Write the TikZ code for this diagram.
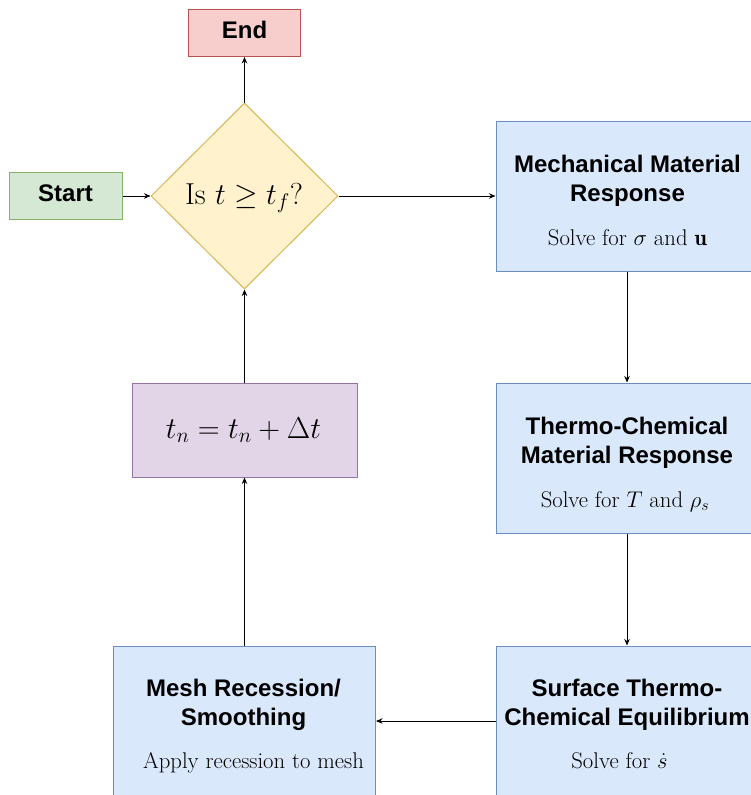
\RequirePackage{fix-cm}
\documentclass[tikz,border=0pt]{standalone}
\usepackage{fontspec}
\setsansfont{Liberation Sans}
\usetikzlibrary{shapes.geometric,arrows.meta}
\definecolor{bluefill}{HTML}{DAE8FC}\definecolor{bluedraw}{HTML}{6C8EBF}
\definecolor{purfill}{HTML}{E1D5E7}\definecolor{purdraw}{HTML}{9673A6}
\definecolor{yelfill}{HTML}{FFF2CC}\definecolor{yeldraw}{HTML}{D6B656}
\definecolor{grnfill}{HTML}{D5E8D4}\definecolor{grndraw}{HTML}{82B366}
\definecolor{redfill}{HTML}{F8CECC}\definecolor{reddraw}{HTML}{B85450}
\tikzset{
  boxbase/.style={rectangle, inner sep=0pt, line width=1pt},
  bluebox/.style={boxbase, fill=bluefill, draw=bluedraw, minimum width=262pt, minimum height=150pt},
  title/.style={font=\sffamily\bfseries\fontsize{24}{28}\selectfont, anchor=base, inner sep=0pt},
  sub/.style={font=\fontsize{22.7}{27}\selectfont, anchor=base, inner sep=0pt},
  big/.style={font=\fontsize{30.3}{36}\selectfont, anchor=base, inner sep=0pt},
  conn/.style={line width=0.9pt, -{Stealth[length=6.5pt,width=5.5pt]}},
}
\begin{document}
\begin{tikzpicture}[x=1pt,y=-1pt]
\useasboundingbox (0,0) rectangle (751,795);
\clip (0,0) rectangle (751,795);
% boxes
\node[boxbase, fill=redfill, draw=reddraw, minimum width=112pt, minimum height=47pt] (endb) at (244.5,33) {};
\node[boxbase, fill=grnfill, draw=grndraw, minimum width=113pt, minimum height=47pt] (start) at (65.5,196) {};
\node[diamond, inner sep=0pt, line width=1pt, fill=yelfill, draw=yeldraw, minimum width=187pt, minimum height=186pt] (dec) at (244.5,196) {};
\node[bluebox] (mech) at (627,196) {};
\node[bluebox] (thermo) at (627,458) {};
\node[bluebox] (surf) at (627,721) {};
\node[bluebox] (mesh) at (244.5,721) {};
\node[boxbase, fill=purfill, draw=purdraw, minimum width=225pt, minimum height=94pt] (tn) at (244.5,430) {};
% texts
\node[title] (endt) at (244.5,38) {End};
\node[title] (startt) at (65.5,201) {Start};
\node[big] (dect) at (244,204) {Is $t \geq t_f$?};
\node[big] (tnt) at (243.5,438) {$t_n = t_n + \Delta t$};
\node[title] (mech1) at (627.5,172) {Mechanical Material};
\node[title] (mech2) at (627.5,201) {Response};
\node[sub] (mech3) at (627.5,245) {Solve for $\sigma$ and $\mathbf{u}$};
\node[title] (th1) at (627,434) {Thermo-Chemical};
\node[title] (th2) at (627,463) {Material Response};
\node[sub] (th3) at (625,507) {Solve for $T$ and $\rho_s$};
\node[title] (su1) at (627,696) {Surface Thermo-};
\node[title] (su2) at (627,725) {Chemical Equilibrium};
\node[sub] (su3) at (619.5,768) {Solve for $\dot{s}$};
\node[title] (me1) at (243.5,696) {Mesh Recession/};
\node[title] (me2) at (243.5,725) {Smoothing};
\node[sub] (me3) at (253.5,768) {Apply recession to mesh};
% connectors
\draw[conn] (start.east) -- (dec.west);
\draw[conn] (dec.north) -- (endb.south);
\draw[conn] (dec.east) -- (mech.west |- dec.east);
\draw[conn] (mech.south) -- (thermo.north);
\draw[conn] (thermo.south) -- (surf.north);
\draw[conn] (surf.west) -- (mesh.east);
\draw[conn] (mesh.north) -- (tn.south);
\draw[conn] (tn.north) -- (dec.south);
\end{tikzpicture}
\end{document}
